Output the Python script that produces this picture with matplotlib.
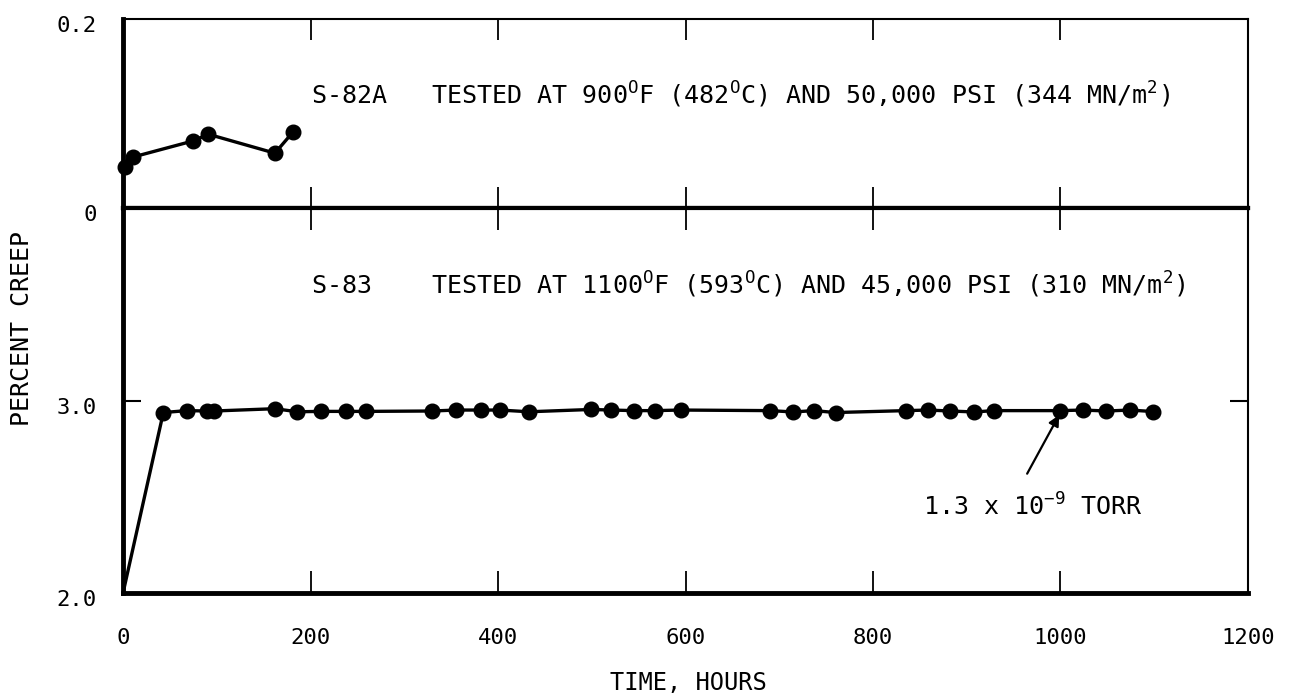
import numpy as np
import matplotlib.pyplot as plt
from matplotlib.transforms import ScaledTranslation

plt.rcParams['font.family'] = 'DejaVu Sans Mono'
plt.rcParams['mathtext.fontset'] = 'custom'
plt.rcParams['mathtext.rm'] = 'DejaVu Sans Mono'

# S-82A: 900 F (482 C), 50,000 psi -- percent creep vs hours
hours_82a = [2, 11, 75, 91, 162, 181]
creep_82a = [0.043, 0.054, 0.071, 0.078, 0.058, 0.080]

# S-83: 1100 F (593 C), 45,000 psi -- starts at the 2.0 baseline on loading
hours_83 = [0, 43, 68, 90, 97, 162, 186, 211, 238, 259, 330, 355, 382, 402, 433,
            499, 521, 545, 567, 595, 690, 715, 737, 760, 835, 859, 882, 908, 929,
            1000, 1024, 1049, 1074, 1099]
creep_83 = [2.0, 2.942, 2.952, 2.950, 2.950, 2.962, 2.946, 2.948, 2.948, 2.948,
            2.950, 2.955, 2.955, 2.955, 2.946, 2.958, 2.955, 2.952, 2.952, 2.955,
            2.952, 2.945, 2.952, 2.942, 2.952, 2.955, 2.950, 2.945, 2.952, 2.952,
            2.955, 2.950, 2.955, 2.947]

x_ticks = [0, 200, 400, 600, 800, 1000, 1200]
x_labels = ['0', '200', '400', '600', '800', '1000', '1200']
top_yticks = [0, 0.2]
top_ylabels = ['0', '0.2']
bot_yticks = [2.0, 3.0]
bot_ylabels = ['2.0', '3.0']

# vacuum reading marked on the S-83 curve
torr_hours = 1000
torr_creep = 2.952

fig = plt.figure(figsize=(12.95, 7.0), dpi=100)
ax_top = fig.add_axes([0.095, 0.7029, 0.8687, 0.27])
ax_bot = fig.add_axes([0.095, 0.1529, 0.8687, 0.55])

for ax in (ax_top, ax_bot):
    ax.set_xlim(0, 1200)
    ax.set_xticks(x_ticks)
    for side in ('left', 'right', 'top', 'bottom'):
        ax.spines[side].set_color('black')
    ax.spines['left'].set_linewidth(3.5)
    ax.spines['right'].set_linewidth(1.5)

# upper panel
ax_top.set_ylim(0, 0.2)
ax_top.set_yticks(top_yticks)
ax_top.set_yticklabels(top_ylabels)
ax_top.spines['top'].set_linewidth(1.5)
ax_top.spines['bottom'].set_linewidth(3)
ax_top.tick_params(axis='x', direction='in', top=True, bottom=True, length=15,
                   width=1.3, labelbottom=False)
ax_top.tick_params(axis='y', length=0, pad=19, labelsize=16)
ax_top.plot(hours_82a, creep_82a, '-o', color='black', lw=2.4, ms=10.5, clip_on=False)
ax_top.text(200, 0.12, 'S-82A   TESTED AT 900$^{\\mathrm{O}}$F (482$^{\\mathrm{O}}$C) AND 50,000 PSI (344 MN/m$^{\\mathrm{2}}$)',
            fontsize=18, va='center', ha='left')

# lower panel
ax_bot.set_ylim(2.0, 4.01)
ax_bot.set_yticks(bot_yticks)
ax_bot.set_yticklabels(bot_ylabels)
ax_bot.spines['top'].set_linewidth(3)
ax_bot.spines['bottom'].set_linewidth(3.5)
ax_bot.tick_params(axis='x', direction='in', top=True, bottom=True, length=16,
                   width=1.3, pad=25, labelsize=16)
ax_bot.tick_params(axis='y', direction='in', left=True, right=True, length=13,
                   width=1.5, pad=19, labelsize=16)
ax_bot.set_xticklabels(x_labels)
ax_bot.plot(hours_83, creep_83, '-', color='black', lw=2.4, clip_on=False)
ax_bot.plot(hours_83[1:], creep_83[1:], 'o', color='black', ms=10.5)
ax_bot.text(200, 3.61, 'S-83    TESTED AT 1100$^{\\mathrm{O}}$F (593$^{\\mathrm{O}}$C) AND 45,000 PSI (310 MN/m$^{\\mathrm{2}}$)',
            fontsize=18, va='center', ha='left')

ax_bot.annotate('', xy=(torr_hours, torr_creep - 0.01), xytext=(963, 2.61),
                arrowprops=dict(arrowstyle='-|>', color='black', lw=1.6, mutation_scale=16))
ax_bot.text(853, 2.45, '1.3 x 10$^{\\mathrm{-9}}$ TORR', fontsize=18, va='center', ha='left')

# y tick labels sit a little below their ticks
shift = ScaledTranslation(0, -5 / 100, fig.dpi_scale_trans)
for ax in (ax_top, ax_bot):
    for lab in ax.get_yticklabels():
        lab.set_transform(lab.get_transform() + shift)

fig.text(22 / 1295, 1 - 329 / 700, 'PERCENT CREEP', rotation=90, fontsize=18,
         va='center', ha='center')
fig.text(688 / 1295, 1 - 683 / 700, 'TIME, HOURS', fontsize=17, va='center', ha='center')

fig.savefig('out.png', dpi=100, facecolor='white')
